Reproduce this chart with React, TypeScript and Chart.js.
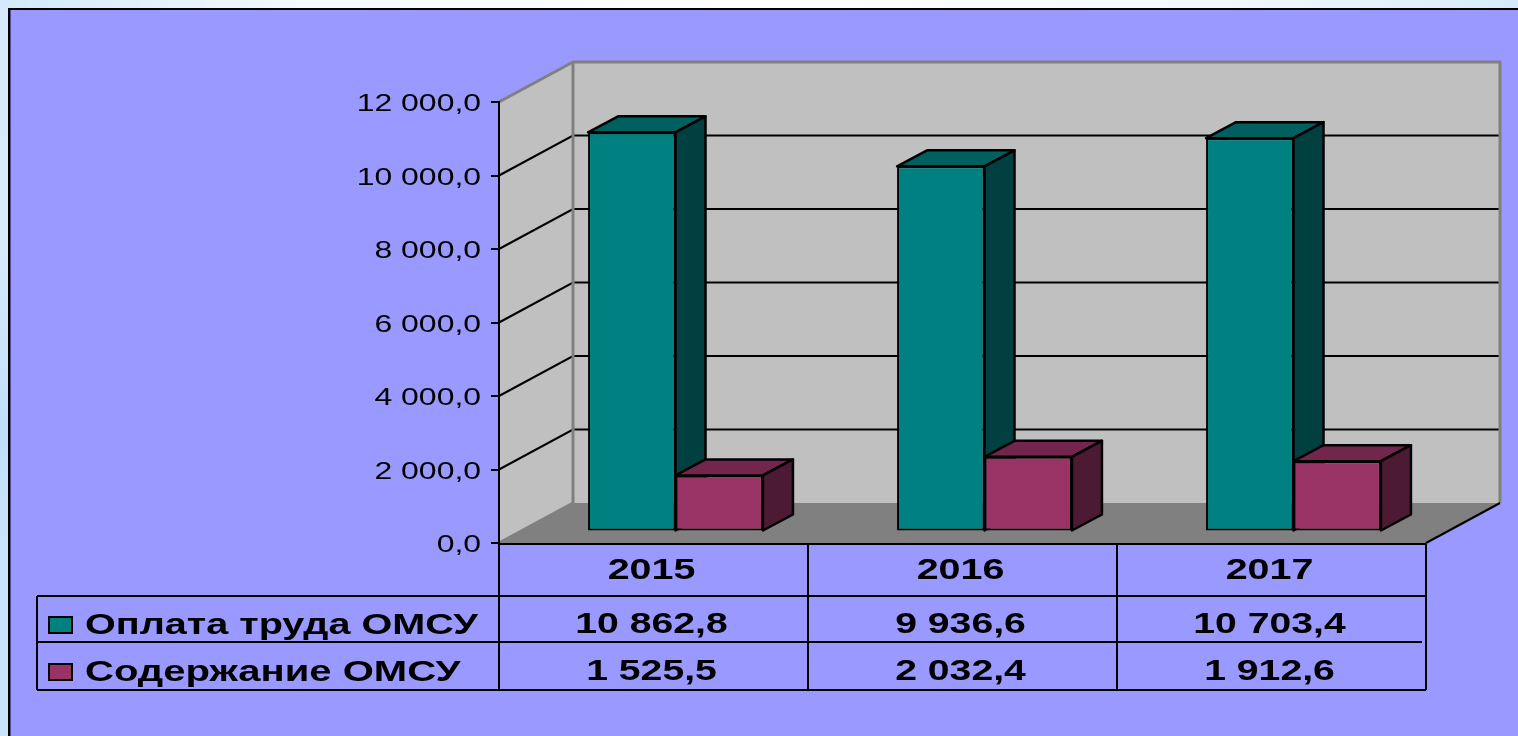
import React, { useEffect, useRef } from "react";
import { Chart, registerables } from "chart.js";

Chart.register(...registerables);

const categories = ["2015", "2016", "2017"];
const payValues = [10862.8, 9936.6, 10703.4];
const upkeepValues = [1525.5, 2032.4, 1912.6];
const seriesNames = ["Оплата труда ОМСУ", "Содержание ОМСУ"];
const frontColors = ["#008080", "#993366"];
const topColors = ["#006060", "#73264d"];
const sideColors = ["#004040", "#4d1a33"];

const FONT = '"Liberation Sans", Arial, sans-serif';
const WALL_DX = 74;
const WALL_DY = -40;
const BAR_SHIFT_X = 22;
const BAR_SHIFT_Y = -11.5;
const BAR_DX = 30;
const BAR_DY = -16;

const fmt = (v: number) => {
  const [a, b] = v.toFixed(1).split(".");
  return a.replace(/\B(?=(\d{3})+$)/g, " ") + "," + b;
};

const stretched = (ctx: CanvasRenderingContext2D, text: string, x: number, y: number, align: CanvasTextAlign, sx: number) => {
  ctx.save();
  ctx.translate(x, y);
  ctx.scale(sx, 1);
  ctx.textAlign = align;
  ctx.textBaseline = "alphabetic";
  ctx.fillStyle = "#000";
  ctx.fillText(text, 0, 0);
  ctx.restore();
};

const poly = (ctx: CanvasRenderingContext2D, pts: number[][], fill: string | null, stroke: string | null, lw = 2) => {
  ctx.beginPath();
  pts.forEach((p, i) => (i ? ctx.lineTo(p[0], p[1]) : ctx.moveTo(p[0], p[1])));
  if (fill) {
    ctx.closePath();
    ctx.fillStyle = fill;
    ctx.fill();
  }
  if (stroke) {
    ctx.strokeStyle = stroke;
    ctx.lineWidth = lw;
    ctx.lineJoin = "round";
    ctx.stroke();
  }
};

const scene3d = {
  id: "scene3d",
  beforeDraw(chart: any) {
    const { ctx, chartArea: a, scales } = chart;
    const W = chart.width;
    const H = chart.height;
    ctx.save();
    // page backdrop
    const top = ctx.createLinearGradient(0, 0, W, 0);
    top.addColorStop(0, "#d2e9fa");
    top.addColorStop(0.2, "#f4faff");
    top.addColorStop(0.5, "#ffffff");
    top.addColorStop(0.8, "#f2f9fe");
    top.addColorStop(1, "#d6ecfb");
    ctx.fillStyle = top;
    ctx.fillRect(0, 0, W, 9);
    const left = ctx.createLinearGradient(0, 0, 0, H);
    left.addColorStop(0, "#d4e9fb");
    left.addColorStop(0.3, "#d9ecfc");
    left.addColorStop(0.58, "#bfe0fa");
    left.addColorStop(0.7, "#c6e3fb");
    left.addColorStop(1, "#c9e5fb");
    ctx.fillStyle = left;
    ctx.fillRect(0, 0, 9, H);
    // panel
    ctx.fillStyle = "#9999ff";
    ctx.fillRect(9, 9, W - 9, H - 9);
    ctx.fillStyle = "#000";
    ctx.fillRect(8, 8, W - 8, 2);
    ctx.fillRect(8, 8, 2, H - 8);
    ctx.fillStyle = "#4d4d99";
    ctx.fillRect(10, 10, 1, H - 10);

    const gx = a.left + WALL_DX;
    const gr = a.right + WALL_DX;
    const gt = a.top + WALL_DY;
    const gb = a.bottom + WALL_DY;
    // back wall, side wall, floor
    ctx.fillStyle = "#c0c0c0";
    ctx.fillRect(gx, gt, gr - gx, gb - gt);
    poly(ctx, [[a.left, a.top], [gx, gt], [gx, gb], [a.left, a.bottom]], "#c0c0c0", null);
    poly(ctx, [[a.left, a.bottom], [gx, gb], [gr, gb], [a.right, a.bottom]], "#808080", null);
    // grid on the walls
    ctx.strokeStyle = "#000";
    ctx.lineWidth = 2;
    scales.y.ticks.forEach((t: any) => {
      if (t.value === 0 || t.value === scales.y.max) return;
      const y = scales.y.getPixelForValue(t.value);
      ctx.beginPath();
      ctx.moveTo(a.left, y);
      ctx.lineTo(gx, y + WALL_DY);
      ctx.lineTo(gr, y + WALL_DY);
      ctx.stroke();
    });
    // wall edges
    poly(ctx, [[a.left, a.top], [gx, gt], [gr, gt], [gr, gb]], null, "#808080", 3);
    poly(ctx, [[gx, gt], [gx, gb], [a.left, a.bottom]], null, "#808080", 3);
    poly(ctx, [[a.right, a.bottom], [gr, gb]], null, "#000", 2);
    ctx.restore();
  },
  beforeDatasetsDraw(chart: any) {
    const { ctx } = chart;
    ctx.save();
    [0, 1].forEach((i) => {
      chart.getDatasetMeta(i).data.forEach((el: any) => {
        const { x, y, base, width } = el.getProps(["x", "y", "base", "width"], true);
        const l = x - width / 2 + BAR_SHIFT_X;
        const r = x + width / 2 + BAR_SHIFT_X;
        const t = y + BAR_SHIFT_Y;
        const b = base + BAR_SHIFT_Y;
        poly(ctx, [[l, t], [l + BAR_DX, t + BAR_DY], [r + BAR_DX, t + BAR_DY], [r, t]], topColors[i], "#000", 2.5);
        poly(ctx, [[r, t], [r + BAR_DX, t + BAR_DY], [r + BAR_DX, b + BAR_DY], [r, b]], sideColors[i], "#000", 2.5);
      });
    });
    ctx.restore();
  },
  beforeDatasetDraw(chart: any) {
    chart.ctx.save();
    chart.ctx.translate(BAR_SHIFT_X, BAR_SHIFT_Y);
  },
  afterDatasetDraw(chart: any) {
    chart.ctx.restore();
  },
  afterDraw(chart: any) {
    const { ctx, chartArea: a, scales } = chart;
    const rowsY = [a.bottom + 1, 596, 642, 690];
    const tableLeft = 37;
    const edges = [a.left];
    categories.forEach((_, i) => edges.push(a.left + ((a.right - a.left) * (i + 1)) / categories.length));
    ctx.save();
    // table
    ctx.strokeStyle = "#000";
    ctx.lineWidth = 2;
    ctx.beginPath();
    ctx.moveTo(a.left, rowsY[0]);
    ctx.lineTo(a.right, rowsY[0]);
    ctx.moveTo(tableLeft, rowsY[1]);
    ctx.lineTo(a.right, rowsY[1]);
    ctx.moveTo(tableLeft, rowsY[2]);
    ctx.lineTo(a.right - 4, rowsY[2]);
    ctx.moveTo(tableLeft, rowsY[3]);
    ctx.lineTo(a.right, rowsY[3]);
    ctx.moveTo(tableLeft, rowsY[1]);
    ctx.lineTo(tableLeft, rowsY[3]);
    edges.forEach((x) => {
      ctx.moveTo(x, rowsY[0]);
      ctx.lineTo(x, rowsY[3]);
    });
    ctx.stroke();
    // y tick labels
    ctx.font = `24px ${FONT}`;
    scales.y.ticks.forEach((t: any) => {
      stretched(ctx, t.label, 481, scales.y.getPixelForValue(t.value) + 9, "right", 1.33);
    });
    // header and values
    ctx.font = `bold 29px ${FONT}`;
    const series = [payValues, upkeepValues];
    categories.forEach((c, i) => {
      const cx = scales.x.getPixelForValue(i) - 2;
      stretched(ctx, c, cx, 579, "center", 1.36);
      stretched(ctx, fmt(series[0][i]), cx, 633, "center", 1.35);
      stretched(ctx, fmt(series[1][i]), cx, 680, "center", 1.35);
    });
    // legend cells
    seriesNames.forEach((n, i) => {
      const y = i ? 664 : 617;
      ctx.fillStyle = frontColors[i];
      ctx.fillRect(49, y, 23, 16);
      ctx.strokeStyle = "#000";
      ctx.lineWidth = 2;
      ctx.strokeRect(49, y, 23, 16);
      ctx.font = `bold 29px ${FONT}`;
      stretched(ctx, n, 85, i ? 681 : 634, "left", i ? 1.38 : 1.365);
    });
    ctx.restore();
  },
};

export default function App() {
  const ref = useRef<HTMLCanvasElement>(null);
  useEffect(() => {
    const chart = new Chart(ref.current as HTMLCanvasElement, {
      type: "bar",
      data: {
        labels: categories,
        datasets: [
          { label: seriesNames[0], data: payValues, backgroundColor: frontColors[0], borderColor: "#000", borderWidth: 2, borderSkipped: false, clip: false } as any,
          { label: seriesNames[1], data: upkeepValues, backgroundColor: frontColors[1], borderColor: "#000", borderWidth: 2, borderSkipped: false, clip: false } as any,
        ],
      },
      options: {
        animation: false,
        responsive: false,
        layout: { padding: { left: 499, top: 102, right: 92, bottom: 193 } },
        plugins: { legend: { display: false }, title: { display: false }, tooltip: { enabled: false } },
        datasets: { bar: { categoryPercentage: 0.566, barPercentage: 1 } },
        scales: {
          x: {
            ticks: { display: false },
            grid: { display: false },
            border: { display: false },
            afterFit: (s: any) => { s.height = 0; },
          },
          y: {
            min: 0,
            max: 12000,
            ticks: {
              stepSize: 2000,
              display: false,
              callback: (v: any) => fmt(Number(v)),
            },
            grid: { drawOnChartArea: false, drawTicks: true, tickLength: 8, color: "#000", lineWidth: 2 },
            border: { display: true, color: "#000", width: 2 },
            afterFit: (s: any) => { s.width = 0; },
          },
        },
      } as any,
      plugins: [scene3d],
    });
    return () => chart.destroy();
  }, []);
  return <canvas ref={ref} width={1518} height={736} style={{ position: "fixed", left: 0, top: 0, display: "block" }} />;
}
